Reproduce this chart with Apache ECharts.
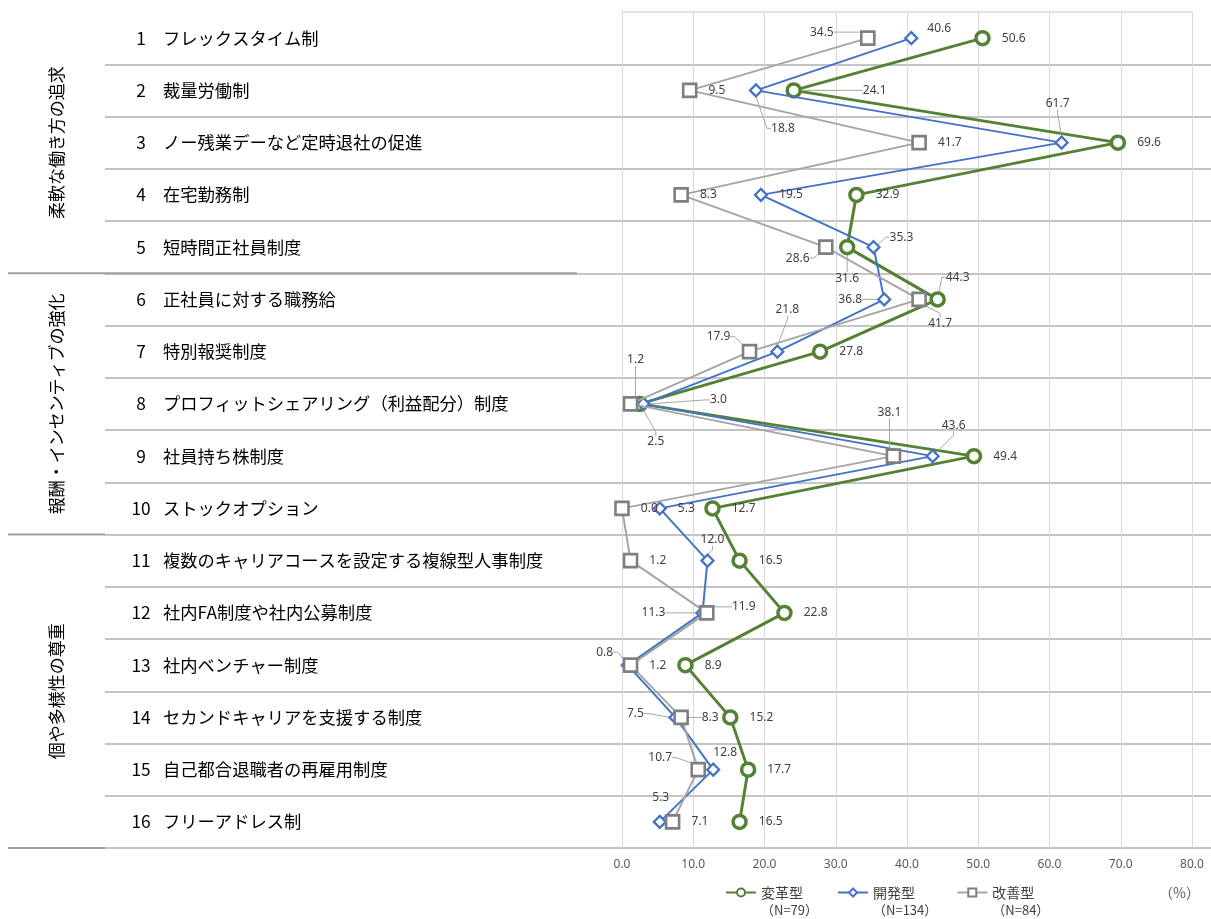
<!DOCTYPE html>
<html lang="ja">
<head>
<meta charset="UTF-8">
<title>人事制度の導入状況</title>
<script src="https://cdn.jsdelivr.net/npm/echarts@6/dist/echarts.min.js"></script>
<style>
  html, body { margin: 0; padding: 0; background: #fff; }
  #main { width: 1211px; height: 919px; }
</style>
</head>
<body>
<div id="main"></div>
<script>
var categories = [
    '1 フレックスタイム制',
    '2 裁量労働制',
    '3 ノー残業デーなど定時退社の促進',
    '4 在宅勤務制',
    '5 短時間正社員制度',
    '6 正社員に対する職務給',
    '7 特別報奨制度',
    '8 プロフィットシェアリング（利益配分）制度',
    '9 社員持ち株制度',
    '10 ストックオプション',
    '11 複数のキャリアコースを設定する複線型人事制度',
    '12 社内FA制度や社内公募制度',
    '13 社内ベンチャー制度',
    '14 セカンドキャリアを支援する制度',
    '15 自己都合退職者の再雇用制度',
    '16 フリーアドレス制'
];
var groupNames = ['柔軟な働き方の追求', '報酬・インセンティブの強化', '個や多様性の尊重'];
var groupSizes = [5, 5, 6];

var seriesNames = ['変革型', '開発型', '改善型'];
var sampleSizes = ['（N=79）', '（N=134）', '（N=84）'];

var henkaku  = [50.6, 24.1, 69.6, 32.9, 31.6, 44.3, 27.8, 2.5, 49.4, 12.7, 16.5, 22.8, 8.9, 15.2, 17.7, 16.5];
var kaihatsu = [40.6, 18.8, 61.7, 19.5, 35.3, 36.8, 21.8, 3.0, 43.6, 5.3, 12.0, 11.3, 0.8, 7.5, 12.8, 5.3];
var kaizen   = [34.5, 9.5, 41.7, 8.3, 28.6, 41.7, 17.9, 1.2, 38.1, 0.0, 1.2, 11.9, 1.2, 8.3, 10.7, 7.1];

var xMin = 0, xMax = 80, xStep = 10;

// ラベルの移動 (点の中心からのずれ px, 引き出し線あり=1)
var labelMoves = [
    {1: [81, 0, 1], 4: [0, 31, 1], 5: [20, -22, 1], 7: [16, 38, 1]},
    {0: [28, -10, 0], 1: [27, 38, 1], 2: [-4, -39, 1], 4: [28, -10, 1], 5: [-34, 0, 1],
     6: [10, -42, 1], 7: [75, -4, 1], 8: [21, -31, 1], 10: [5, -21, 1], 11: [-49, 0, 1],
     12: [-23, -13, 1], 13: [-40, -4, 1], 14: [12, -17, 0], 15: [1, -24, 0]},
    {0: [-46, -6, 1], 4: [-28, 11, 1], 5: [21, 24, 1], 6: [-31, -15, 1], 7: [5, -44, 1],
     8: [-4, -44, 1], 11: [37, -6, 1], 13: [29, 0, 1], 14: [-38, -12, 1]}
];

var colors = ['#548235', '#4472c4', '#a5a5a5'];
var markerColors = ['#548235', '#4472c4', '#7f7f7f'];
var symbols = ['circle', 'diamond', 'rect'];
var symbolSizes = [13, 12, 13];
var lineWidths = [3, 2, 2];
var markerWidths = [3.5, 2.2, 2.6];
var values = [henkaku, kaihatsu, kaizen];

var font = '"Noto Sans CJK JP", "Noto Sans", sans-serif';

var myChart = echarts.init(document.getElementById('main'));

var series = seriesNames.map(function (name, s) {
    return {
        name: name,
        type: 'line',
        xAxisIndex: 0,
        yAxisIndex: 0,
        z: 3 + s,
        symbol: symbols[s],
        symbolSize: symbolSizes[s],
        lineStyle: { color: colors[s], width: lineWidths[s] },
        itemStyle: { color: '#fff', borderColor: markerColors[s], borderWidth: markerWidths[s] },
        label: {
            show: true,
            position: 'right',
            distance: 11,
            fontSize: 12,
            fontFamily: '"Noto Sans", sans-serif',
            color: '#404040',
            formatter: function (p) { return p.value[0].toFixed(1); }
        },
        labelLine: {
            show: false,
            length2: 4,
            lineStyle: { color: '#a6a6a6', width: 1 }
        },
        labelLayout: function (p) {
            var m = labelMoves[s][p.dataIndex];
            if (!m) return {};
            return {
                x: p.rect.x + p.rect.width / 2 + m[0],
                y: p.rect.y + p.rect.height / 2 + m[1],
                align: 'center',
                verticalAlign: 'middle'
            };
        },
        emphasis: { disabled: true },
        animation: false,
        data: values[s].map(function (v, i) {
            var m = labelMoves[s][i];
            var item = { value: [v, categories[i]] };
            if (m && m[2]) item.labelLine = { show: true };
            return item;
        })
    };
});

var option = {
    animation: false,
    textStyle: { fontFamily: font },
    grid: [
        { left: 622, right: 19, top: 12, bottom: 71 },
        { left: 105, right: 0, top: 12, bottom: 71 }
    ],
    xAxis: [
        {
            type: 'value', gridIndex: 0,
            min: xMin, max: xMax, interval: xStep,
            axisLine: { show: false },
            axisTick: { show: false },
            axisLabel: {
                margin: 11, fontSize: 12, color: '#595959',
                fontFamily: '"Noto Sans", sans-serif',
                formatter: function (v) { return v.toFixed(1); }
            },
            splitLine: { lineStyle: { color: '#d9d9d9', width: 1 } }
        },
        {
            type: 'value', gridIndex: 0, position: 'top',
            min: xMin, max: xMax, interval: xStep,
            axisLine: { show: true, lineStyle: { color: '#d9d9d9', width: 1.5 } },
            axisTick: { show: false },
            axisLabel: { show: false },
            splitLine: { show: false }
        },
        { type: 'value', gridIndex: 1, show: false, min: 0, max: 1 }
    ],
    yAxis: [
        {
            type: 'category', gridIndex: 0, inverse: true, data: categories,
            axisLine: { show: false }, axisTick: { show: false },
            axisLabel: { show: false }, splitLine: { show: false }
        },
        {
            type: 'category', gridIndex: 1, inverse: true, data: categories,
            axisLine: { show: false }, axisTick: { show: false },
            axisLabel: {
                inside: true,
                margin: 25,
                formatter: function (v) {
                    var k = v.indexOf(' ');
                    return '{n|' + v.slice(0, k) + '}{t|' + v.slice(k + 1) + '}';
                },
                rich: {
                    n: { width: 22, align: 'right', fontSize: 17.3, color: '#000', fontFamily: font },
                    t: { fontSize: 17.3, color: '#000', padding: [0, 0, 0, 11], fontFamily: font }
                }
            },
            splitLine: {
                show: true, showMinLine: false, showMaxLine: true,
                lineStyle: { color: '#c4c4c4', width: 2 }
            }
        }
    ],
    legend: {
        left: 720,
        top: 863,
        itemWidth: 30,
        itemHeight: 10,
        itemGap: 19,
        data: seriesNames,
        formatter: function (name) {
            return '{e| }\n{a|' + name + '}\n{b|' + sampleSizes[seriesNames.indexOf(name)] + '}';
        },
        textStyle: {
            color: '#404040',
            rich: {
                e: { lineHeight: 18, fontSize: 13 },
                a: { lineHeight: 18, fontSize: 14, color: '#404040', fontFamily: font },
                b: { lineHeight: 18, fontSize: 13, color: '#404040', fontFamily: font }
            }
        }
    },
    series: series
};

myChart.setOption(option);

// 分類名と区切り線
var graphics = [];
var c0 = myChart.convertToPixel({ yAxisIndex: 1 }, categories[0]);
var c1 = myChart.convertToPixel({ yAxisIndex: 1 }, categories[1]);
var band = c1 - c0;
var start = 0;
groupNames.forEach(function (g, k) {
    var end = start + groupSizes[k] - 1;
    var y0 = myChart.convertToPixel({ yAxisIndex: 1 }, categories[start]);
    var y1 = myChart.convertToPixel({ yAxisIndex: 1 }, categories[end]);
    graphics.push({
        type: 'text', x: 57, y: (y0 + y1) / 2, rotation: Math.PI / 2,
        style: { text: g, fontSize: 17, fontFamily: font, fill: '#000', align: 'center', verticalAlign: 'middle' }
    });
    var yb = y1 + band / 2;
    graphics.push({
        type: 'line', z: 10,
        shape: { x1: 8, y1: yb, x2: k === 0 ? 577 : 105, y2: yb },
        style: { stroke: '#a0a0a0', lineWidth: 2 }
    });
    start = end + 1;
});
graphics.push({
    type: 'text', right: 11, top: 886,
    style: { text: '（%）', fontSize: 14, fontFamily: font, fill: '#595959' }
});
myChart.setOption({ graphic: graphics });

window.addEventListener('resize', function () {
    myChart.resize();
});
</script>
</body>
</html>
